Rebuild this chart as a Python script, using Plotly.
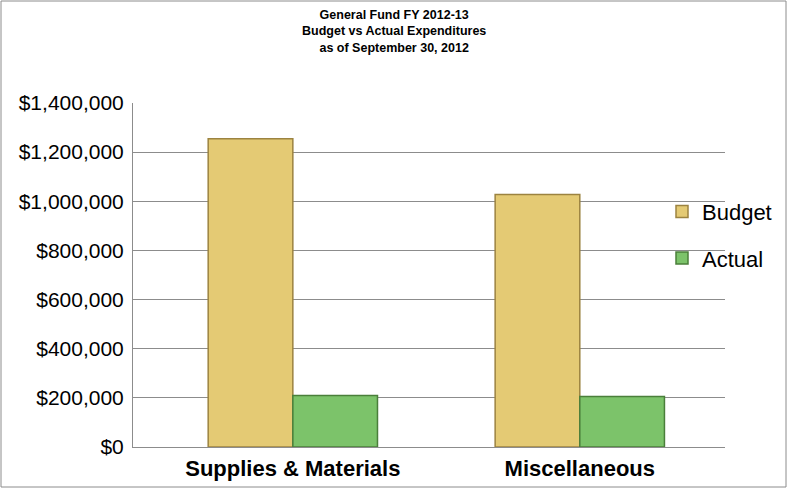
import plotly.graph_objects as go

# Data
categories = ['Supplies & Materials', 'Miscellaneous']
budget = [1255000, 1028000]
actual = [210000, 206000]
y_ticks = [0, 200000, 400000, 600000, 800000, 1000000, 1200000, 1400000]
y_tick_labels = ['$0', '$200,000', '$400,000', '$600,000', '$800,000',
                 '$1,000,000', '$1,200,000', '$1,400,000']
title_lines = ['General Fund FY 2012-13', 'Budget vs Actual Expenditures',
               'as of September 30, 2012']

W, H = 788, 489
ml, mr, mt, mb = 133, 63, 103, 42
pw, ph = W - ml - mr, H - mt - mb

fig = go.Figure()

fig.add_trace(go.Bar(
    x=categories, y=budget, name='Budget', legendgroup='b',
    marker=dict(color='#E4CA74', line=dict(color='#9C8340', width=1.5)),
))
fig.add_trace(go.Bar(
    x=categories, y=actual, name='Actual', legendgroup='a',
    marker=dict(color='#7CC36A', line=dict(color='#4A7F3A', width=1.5)),
))

fig.update_layout(
    width=W, height=H,
    margin=dict(l=ml, r=mr, t=mt, b=mb, autoexpand=False),
    paper_bgcolor='white', plot_bgcolor='white',
    barmode='group', bargap=0.41, bargroupgap=0,
    font=dict(family='Arial, Liberation Sans, sans-serif', color='black'),
    legend=dict(
        x=(662 - ml) / pw, xanchor='left', y=0.745, yanchor='top',
        font=dict(size=22), bgcolor='rgba(0,0,0,0)',
        traceorder='grouped', tracegroupgap=15,
    ),
    showlegend=True,
)

# Three-line bold title
fig.add_annotation(
    text='<b>' + '<br>'.join(title_lines) + '</b>', showarrow=False,
    xref='paper', yref='paper',
    x=(W / 2 - ml) / pw, y=1 + (mt - 31) / ph,
    xanchor='center', yanchor='middle', align='center',
    font=dict(size=12.5, color='black'),
)

fig.update_yaxes(
    range=[0, 1400000], tickvals=y_ticks, ticktext=y_tick_labels,
    showgrid=True, gridcolor='#8C8C8C', gridwidth=1,
    showline=True, linecolor='#8C8C8C', linewidth=1,
    zeroline=False, tickfont=dict(size=21), ticks='', ticklen=0,
    ticklabelstandoff=4, automargin=False,
)
fig.update_xaxes(
    range=[-0.557, 1.506],
    tickvals=categories,
    ticktext=['<b>' + c + '</b>' for c in categories],
    tickfont=dict(size=22), showline=True, linecolor='#8C8C8C', linewidth=1,
    ticks='', ticklabelstandoff=2, automargin=False,
)

# Outer chart border
fig.add_shape(
    type='rect', xref='paper', yref='paper',
    x0=-(ml - 1) / pw, x1=1 + (mr - 2) / pw,
    y0=-(mb - 2) / ph, y1=1 + (mt - 1) / ph,
    line=dict(color='#8C8C8C', width=1),
)

fig.write_html('out.html', config={'displayModeBar': False},
               post_script="document.body.style.margin='0';")
